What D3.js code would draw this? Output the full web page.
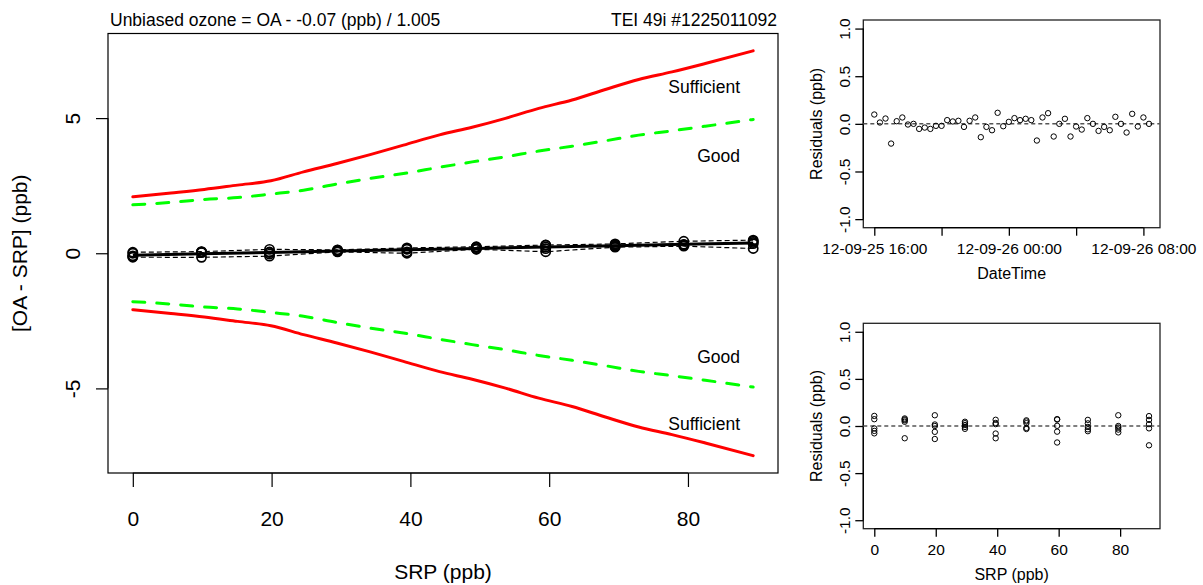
<!DOCTYPE html>
<html><head><meta charset="utf-8">
<script src="https://cdn.jsdelivr.net/npm/d3@7"></script>
<style>
html,body{margin:0;padding:0;background:#fff;}
svg{display:block;font-family:"Liberation Sans",Arial,sans-serif;}
</style></head>
<body>
<svg id="c" width="1203" height="585"></svg>
<script>
// ---------- DATA ----------
const titleLeft = "Unbiased ozone = OA - -0.07 (ppb) / 1.005";
const titleRight = "TEI 49i #1225011092";
// SRP set points (ppb)
const srpLevels = [0, 9.9, 19.7, 29.5, 39.5, 49.5, 59.5, 69.5, 79.4, 89.4];
// fitted OA - SRP at each level
const fitDiff = [-0.07, -0.02, 0.03, 0.08, 0.13, 0.18, 0.23, 0.28, 0.33, 0.38];
// residuals (ppb) of the 5 measurements at each level
const srpResiduals = [
  [0.107, 0.072, -0.026, -0.052, -0.078],
  [0.080, 0.070, 0.060, 0.045, -0.130],
  [0.114, 0.016, 0.000, -0.062, -0.138],
  [0.045, 0.030, 0.010, -0.010, -0.030],
  [0.066, 0.032, 0.020, -0.080, -0.130],
  [0.060, 0.048, 0.030, -0.020, -0.032],
  [0.073, 0.068, 0.002, -0.060, -0.175],
  [0.065, 0.028, -0.010, -0.035, -0.055],
  [0.114, 0.000, -0.016, -0.038, -0.068],
  [0.105, 0.065, 0.020, -0.025, -0.205]
];
// quality limit curves (upper half; lower half is the mirror)
const limitSRP = [0, 5.5, 10.3, 15.1, 19.9, 24.6, 29.4, 34.2, 39.0, 44.2, 48.9, 53.7, 58.5, 63.3, 68.1, 72.9, 77.7, 82.5, 89.4];
const sufficient = [2.09, 2.23, 2.36, 2.52, 2.68, 3.01, 3.32, 3.65, 4.00, 4.38, 4.66, 4.99, 5.36, 5.67, 6.06, 6.43, 6.71, 7.02, 7.49];
const good = [1.79, 1.88, 1.99, 2.06, 2.19, 2.33, 2.56, 2.77, 2.95, 3.18, 3.38, 3.57, 3.78, 3.96, 4.16, 4.37, 4.53, 4.70, 4.95];
// residuals in time order, every 20 minutes from 2012-09-25 16:00
const timeStart = "2012-09-25T16:00:00Z";
const timeStepMin = 20;
const timeResiduals = [0.098, 0.014, 0.056, -0.207, 0.028, 0.067, -0.007, 0.000, -0.053, -0.039,
  -0.053, -0.021, -0.021, 0.039, 0.025, 0.032, -0.032, 0.032, 0.067, -0.140,
  -0.032, -0.067, 0.116, -0.025, 0.021, 0.060, 0.039, 0.053, 0.039, -0.175,
  0.067, 0.112, -0.133, 0.000, 0.053, -0.133, -0.028, -0.060, 0.060, 0.000,
  -0.074, -0.032, -0.067, 0.074, 0.000, -0.091, 0.105, -0.028, 0.067, 0.000];
const mainXTicks = [0, 20, 40, 60, 80];
const mainYTicks = [-5, 0, 5];
const resYTicks = [-1, -0.5, 0, 0.5, 1];

// ---------- DRAW ----------
const svg = d3.select("#c");
const t0 = new Date(timeStart);
const times = timeResiduals.map((_, i) => new Date(t0.getTime() + i * timeStepMin * 60000));
const fmtInt = d => String(d);
const fmt1 = d => d.toFixed(1);

// Main panel
const M = {l: 108, r: 778, t: 33.5, b: 473};
const srpMax = d3.max(srpLevels);
const xM = d3.scaleLinear().domain([-0.04 * srpMax, srpMax * 1.04]).range([M.l, M.r]);
const yM = d3.scaleLinear().domain([-8.13, 8.13]).range([M.b, M.t]);
const gM = svg.append("g");

gM.append("rect").attr("x", M.l).attr("y", M.t).attr("width", M.r - M.l).attr("height", M.b - M.t)
  .attr("fill", "none").attr("stroke", "#000").attr("stroke-width", 1.2);

const xAxM = gM.append("g").attr("transform", `translate(0,${M.b})`)
  .call(d3.axisBottom(xM).tickValues(mainXTicks).tickSize(14).tickPadding(24).tickFormat(fmtInt));
xAxM.select(".domain").attr("d", `M${xM(0)},0H${xM(80)}`);
xAxM.selectAll("text").attr("font-size", 21).attr("fill", "#000").style("font-family", "Liberation Sans, Arial");
xAxM.selectAll("line").attr("stroke-width", 1.2);

const yAxM = gM.append("g").attr("transform", `translate(${M.l},0)`)
  .call(d3.axisLeft(yM).tickValues(mainYTicks).tickSize(12).tickFormat(fmtInt));
yAxM.select(".domain").attr("d", `M0,${yM(-5)}V${yM(5)}`);
yAxM.selectAll("line").attr("stroke-width", 1.2);
yAxM.selectAll("text").attr("font-size", 21).attr("fill", "#000").style("font-family", "Liberation Sans, Arial")
  .attr("x", null).attr("dy", null).attr("text-anchor", "middle")
  .attr("transform", "translate(-28,0) rotate(-90)");

gM.append("text").attr("x", 110).attr("y", 26).attr("font-size", 17.5).text(titleLeft);
gM.append("text").attr("x", 777).attr("y", 26).attr("font-size", 17.5).attr("text-anchor", "end").text(titleRight);
gM.append("text").attr("x", (M.l + M.r) / 2).attr("y", 579).attr("font-size", 21).attr("text-anchor", "middle").text("SRP (ppb)");
gM.append("text").attr("transform", `translate(27,${(M.t + M.b) / 2}) rotate(-90)`).attr("font-size", 21)
  .attr("text-anchor", "middle").text("[OA - SRP] (ppb)");

const limLine = (arr, sign) => d3.line().curve(d3.curveMonotoneX).x((d, i) => xM(limitSRP[i])).y((d, i) => yM(sign * arr[i]))(arr);
[1, -1].forEach(s => {
  gM.append("path").attr("d", limLine(sufficient, s)).attr("fill", "none").attr("stroke", "#ff0000")
    .attr("stroke-width", 3).attr("stroke-linejoin", "round").attr("stroke-linecap", "round");
  gM.append("path").attr("d", limLine(good, s)).attr("fill", "none").attr("stroke", "#00ff00")
    .attr("stroke-width", 3).attr("stroke-dasharray", "12 12").attr("stroke-linecap", "round");
});
const lblX = 740;
gM.append("text").attr("x", lblX).attr("y", 93).attr("text-anchor", "end").attr("font-size", 17.5).text("Sufficient");
gM.append("text").attr("x", lblX).attr("y", 162).attr("text-anchor", "end").attr("font-size", 17.5).text("Good");
gM.append("text").attr("x", lblX).attr("y", 363).attr("text-anchor", "end").attr("font-size", 17.5).text("Good");
gM.append("text").attr("x", lblX).attr("y", 430).attr("text-anchor", "end").attr("font-size", 17.5).text("Sufficient");

// measured differences
const meas = srpLevels.map((s, i) => srpResiduals[i].map(r => ({s, d: fitDiff[i] + r})));
const maxD = meas.map(a => d3.max(a, p => p.d));
const minD = meas.map(a => d3.min(a, p => p.d));
const lvlLine = arr => d3.line().x((d, i) => xM(srpLevels[i])).y(d => yM(d))(arr);
[maxD, minD].forEach(a => gM.append("path").attr("d", lvlLine(a)).attr("fill", "none")
  .attr("stroke", "#000").attr("stroke-width", 1.2).attr("stroke-dasharray", "5 3"));
gM.append("path").attr("d", lvlLine(fitDiff)).attr("fill", "none").attr("stroke", "#000").attr("stroke-width", 3);
gM.append("g").selectAll("circle").data(meas.flat()).join("circle")
  .attr("cx", p => xM(p.s)).attr("cy", p => yM(p.d)).attr("r", 4.6)
  .attr("fill", "none").attr("stroke", "#000").attr("stroke-width", 1.7);

// Residual panels
function resPanel(box, xScale, xTickVals, xFmt, xTitle, pts) {
  const g = svg.append("g");
  const y = d3.scaleLinear().domain([-1.09, 1.09]).range([box.b, box.t]);
  g.append("rect").attr("x", box.l).attr("y", box.t).attr("width", box.r - box.l).attr("height", box.b - box.t)
    .attr("fill", "none").attr("stroke", "#222").attr("stroke-width", 1.3);
  const xa = g.append("g").attr("transform", `translate(0,${box.b})`)
    .call(d3.axisBottom(xScale).tickValues(xTickVals).tickSize(8).tickPadding(7).tickFormat(xFmt));
  xa.select(".domain").attr("d", `M${xScale(xTickVals[0])},0H${xScale(xTickVals[xTickVals.length - 1])}`).attr("stroke-width", 1.3);
  xa.selectAll("line").attr("stroke-width", 1.3);
  xa.selectAll("text").attr("font-size", 15.5).attr("fill", "#000").style("font-family", "Liberation Sans, Arial");
  const ya = g.append("g").attr("transform", `translate(${box.l},0)`)
    .call(d3.axisLeft(y).tickValues(resYTicks).tickSize(8).tickFormat(fmt1));
  ya.select(".domain").attr("d", `M0,${y(-1)}V${y(1)}`).attr("stroke-width", 1.3);
  ya.selectAll("line").attr("stroke-width", 1.3);
  ya.selectAll("text").attr("font-size", 15.5).attr("fill", "#000").style("font-family", "Liberation Sans, Arial")
    .attr("x", null).attr("dy", null).attr("text-anchor", "middle")
    .attr("transform", "translate(-13,0) rotate(-90)");
  g.append("line").attr("x1", box.l).attr("x2", box.r).attr("y1", y(0)).attr("y2", y(0))
    .attr("stroke", "#555").attr("stroke-width", 1.5).attr("stroke-dasharray", "4 3");
  g.selectAll("circle.p").data(pts).join("circle").attr("class", "p")
    .attr("cx", p => xScale(p.x)).attr("cy", p => y(p.y)).attr("r", 2.7)
    .attr("fill", "none").attr("stroke", "#000").attr("stroke-width", 1);
  g.append("text").attr("x", (box.l + box.r) / 2).attr("y", box.b + 51).attr("text-anchor", "middle")
    .attr("font-size", 16).text(xTitle);
  g.append("text").attr("transform", `translate(822,${(box.t + box.b) / 2}) rotate(-90)`)
    .attr("text-anchor", "middle").attr("font-size", 16).text("Residuals (ppb)");
  return g;
}

// top: residuals vs time
const span = times[times.length - 1] - times[0];
const xT = d3.scaleUtc().domain([new Date(+times[0] - 0.04 * span), new Date(+times[times.length - 1] + 0.04 * span)])
  .range([863.3, 1160]);
const timeTicks = d3.utcHour.every(4).range(times[0], new Date(+times[times.length - 1] + 1));
const fmtT = d3.utcFormat("%y-%m-%d %H:%M");
resPanel({l: 863.3, r: 1160, t: 20, b: 227.7}, xT, timeTicks,
  d => (d.getUTCHours() % 8 === 0 ? fmtT(d) : ""), "DateTime",
  timeResiduals.map((r, i) => ({x: times[i], y: r})));

// bottom: residuals vs SRP
const xS = d3.scaleLinear().domain([-0.04 * srpMax, srpMax * 1.04]).range([863.3, 1160]);
resPanel({l: 863.3, r: 1160, t: 323.3, b: 528.7}, xS, [0, 20, 40, 60, 80], fmtInt, "SRP (ppb)",
  srpLevels.flatMap((s, i) => srpResiduals[i].map(r => ({x: s, y: r}))));
</script>
</body></html>
